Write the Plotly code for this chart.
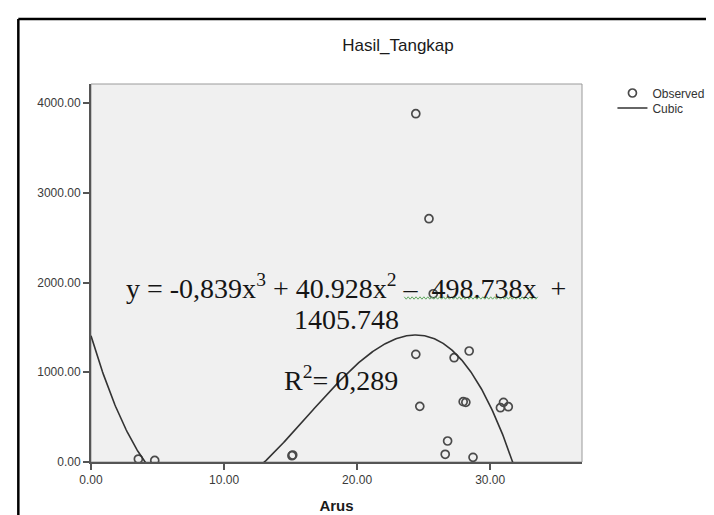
import numpy as np
import plotly.graph_objects as go

# ---- data ----
arus = [3.56, 4.79, 15.10, 15.16, 24.41, 25.40, 25.72, 24.41, 27.29, 28.42,
        24.71, 27.97, 28.17, 31.00, 30.77, 31.36, 26.80, 26.62, 28.71]
hasil = [33, 18, 70, 78, 3881, 2711, 1875, 1200, 1162, 1237,
         620, 672, 665, 665, 605, 616, 234, 86, 52]

# cubic fit coefficients shown on the chart (highest power first)
cubic_coef = [-0.839, 40.928, -498.738, 1405.748]

x_ticks = [0, 10, 20, 30]
y_ticks = [0, 1000, 2000, 3000, 4000]
x_range = [0, 36.9]
y_range = [0, 4212]

eq_line1 = "y = -0,839x<sup>3</sup> + 40.928x<sup>2</sup> \u2013\u00a0 498.738x\u00a0 +"
eq_line2 = "1405.748"
eq_r2 = "R<sup>2</sup>= 0,289"

# ---- figure ----
xc = np.linspace(x_range[0], x_range[1], 600)
yc = np.polyval(cubic_coef, xc)

fig = go.Figure()
fig.add_trace(go.Scatter(
    x=arus, y=hasil, mode="markers", name="Observed", legend="legend",
    marker=dict(symbol="circle-open", size=8, color="#4a4a4a",
                line=dict(width=1.7, color="#4a4a4a")),
))
fig.add_trace(go.Scatter(
    x=xc, y=yc, mode="lines", name="Cubic", legend="legend2",
    line=dict(color="#333333", width=1.6),
))

# pixel geometry helpers for decorations
L, R, T, B = 83, 583, 76, 454
def px2paper(px, py):
    return (px - L) / (R - L), (B - py) / (B - T)

shapes = []
# plot box (light border)
shapes.append(dict(type="rect", xref="paper", yref="paper", x0=0, x1=1, y0=0, y1=1,
                   line=dict(color="#9a9a9a", width=1), layer="below"))
# outer black frame (left and top edges)
fx0, fy0 = px2paper(9, 11)
_, fyb = px2paper(9, 530)
fxr, _ = px2paper(730, 11)
shapes.append(dict(type="line", xref="paper", yref="paper", x0=fx0, x1=fx0, y0=fy0, y1=fyb,
                   line=dict(color="black", width=2.5)))
shapes.append(dict(type="line", xref="paper", yref="paper", x0=fx0, x1=fxr, y0=fy0, y1=fy0,
                   line=dict(color="black", width=2.5)))
# green spell-check squiggle under "498.738x"
pts = []
xs = np.arange(402, 539, 2)
for i, sx in enumerate(xs):
    sy = 290 + (1.2 if i % 2 else -1.2)
    pts.append(px2paper(sx, sy))
path = "M " + " L ".join(f"{a:.5f},{b:.5f}" for a, b in pts)
shapes.append(dict(type="path", xref="paper", yref="paper", path=path,
                   line=dict(color="#5fa85f", width=1)))

serif = "Liberation Serif, Times New Roman, serif"
ann = []
for text, (cx, cy) in [(eq_line1, (343, 278)), (eq_line2, (343, 311)), (eq_r2, (338, 370))]:
    ax_, ay_ = px2paper(cx, cy)
    ann.append(dict(text=text, xref="paper", yref="paper", x=ax_, y=ay_,
                    xanchor="center", yanchor="middle", showarrow=False,
                    font=dict(family=serif, size=28, color="#151515")))

sans = "Liberation Sans, Arial, sans-serif"
axis_common = dict(showgrid=False, zeroline=False, showline=True, linecolor="#555555",
                   linewidth=2, ticks="outside", ticklen=6, tickwidth=2, tickcolor="#555555",
                   tickformat=".2f",
                   tickfont=dict(family=sans, size=12, color="#3a3a3a"))

leg_common = dict(xanchor="left", yanchor="middle", bgcolor="rgba(0,0,0,0)", borderwidth=0,
                  font=dict(family=sans, size=12, color="#333333"))

fig.update_layout(
    width=714, height=515, autosize=False,
    margin=dict(l=L, r=714 - R, t=T, b=515 - B, pad=0),
    paper_bgcolor="white", plot_bgcolor="#f0f0f0",
    title=dict(text="Hasil_Tangkap", x=390 / 714, xanchor="center",
               y=1 - 37 / 515, yanchor="middle",
               font=dict(family=sans, size=17, color="#1a1a1a")),
    xaxis=dict(range=x_range, tickvals=x_ticks,
               title=dict(text="<b>Arus</b>", standoff=14,
                          font=dict(family=sans, size=15, color="#1a1a1a")),
               **axis_common),
    yaxis=dict(range=y_range, tickvals=y_ticks, **axis_common),
    legend=dict(x=px2paper(614, 0)[0], y=px2paper(0, 85)[1], **leg_common),
    legend2=dict(x=px2paper(614, 0)[0], y=px2paper(0, 100)[1], **leg_common),
    shapes=shapes,
    annotations=ann,
    showlegend=True,
)

fig.write_html("out.html")
